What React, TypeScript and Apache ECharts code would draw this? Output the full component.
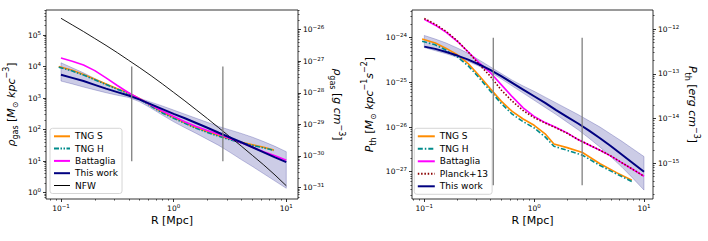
import React, { useEffect, useRef } from "react";
import * as echarts from "echarts";

// ---------- DATA (log10 values) ----------
// Left panel: gas density [Msun kpc^-3]
const rhoLogR = [-1.0, -0.9, -0.8, -0.7, -0.6, -0.5, -0.4, -0.3, -0.2, -0.1, 0, 0.1, 0.2, 0.3, 0.4, 0.5, 0.6, 0.7, 0.8, 0.9, 1.0];
const rhoThisWork = [3.74, 3.64, 3.54, 3.42, 3.30, 3.19, 3.08, 2.95, 2.80, 2.65, 2.50, 2.36, 2.21, 2.06, 1.90, 1.75, 1.60, 1.44, 1.28, 1.12, 0.97];
const rhoBandHi = [4.12, 3.96, 3.80, 3.62, 3.45, 3.28, 3.12, 2.99, 2.87, 2.75, 2.62, 2.49, 2.36, 2.23, 2.10, 1.99, 1.88, 1.76, 1.62, 1.47, 1.30];
const rhoBandLo = [3.54, 3.45, 3.35, 3.26, 3.17, 3.09, 3.02, 2.88, 2.68, 2.46, 2.25, 2.06, 1.88, 1.69, 1.50, 1.28, 1.05, 0.83, 0.60, 0.37, 0.14];
const rhoBattaglia = [4.27, 4.17, 4.05, 3.87, 3.64, 3.40, 3.17, 2.97, 2.78, 2.59, 2.42, 2.25, 2.10, 1.97, 1.85, 1.72, 1.58, 1.44, 1.30, 1.17, 1.03];
const rhoNFW = [5.53, 5.32, 5.11, 4.89, 4.67, 4.44, 4.20, 3.96, 3.71, 3.45, 3.18, 2.91, 2.63, 2.35, 2.06, 1.77, 1.48, 1.18, 0.88, 0.56, 0.22];
const tngLogR = [-1.02, -0.9, -0.8, -0.7, -0.6, -0.5, -0.4, -0.3, -0.2, -0.1, 0, 0.1, 0.2, 0.3, 0.4, 0.5, 0.6, 0.7, 0.8, 0.89];
const rhoTngS = [4.00, 3.88, 3.75, 3.60, 3.45, 3.30, 3.16, 2.98, 2.76, 2.55, 2.38, 2.22, 2.06, 1.93, 1.81, 1.70, 1.60, 1.52, 1.44, 1.35];
const rhoTngH = [3.98, 3.86, 3.73, 3.58, 3.43, 3.28, 3.14, 2.96, 2.74, 2.53, 2.36, 2.20, 2.04, 1.91, 1.79, 1.68, 1.58, 1.50, 1.42, 1.34];
const rhoVLineY = [1.0, 4.0];

// Right panel: thermal pressure [Msun kpc^-1 s^-2]
const pLogR = [-1.0, -0.9, -0.8, -0.7, -0.6, -0.5, -0.4, -0.3, -0.2, -0.1, 0, 0.1, 0.2, 0.3, 0.4, 0.5, 0.6, 0.7, 0.8, 0.9, 1.0];
const pThisWork = [-24.20, -24.25, -24.32, -24.40, -24.49, -24.60, -24.72, -24.86, -25.01, -25.16, -25.31, -25.46, -25.62, -25.77, -25.92, -26.08, -26.25, -26.43, -26.62, -26.81, -27.0];
const pBandHi = [-23.95, -24.03, -24.12, -24.23, -24.35, -24.50, -24.65, -24.80, -24.95, -25.08, -25.20, -25.33, -25.46, -25.59, -25.72, -25.86, -26.00, -26.16, -26.32, -26.49, -26.66];
const pBandLo = [-24.22, -24.29, -24.36, -24.44, -24.53, -24.64, -24.77, -24.92, -25.08, -25.24, -25.40, -25.56, -25.72, -25.89, -26.06, -26.25, -26.45, -26.67, -26.90, -27.15, -27.41];
const pBattaglia = [-23.59, -23.72, -23.88, -24.08, -24.32, -24.56, -24.78, -25.05, -25.32, -25.57, -25.76, -25.90, -26.01, -26.13, -26.28, -26.40, -26.52, -26.65, -26.80, -26.95, -27.10];
const pPlanck = [-23.57, -23.70, -23.86, -24.07, -24.32, -24.60, -24.86, -25.17, -25.42, -25.63, -25.79, -25.91, -26.02, -26.14, -26.28, -26.40, -26.52, -26.65, -26.80, -26.95, -27.10];
const pTngLogR = [-1.02, -0.9, -0.8, -0.7, -0.6, -0.5, -0.4, -0.3, -0.2, -0.1, 0, 0.1, 0.18, 0.3, 0.44, 0.6, 0.75, 0.89];
const pTngS = [-24.03, -24.12, -24.24, -24.38, -24.58, -24.85, -25.14, -25.42, -25.65, -25.82, -25.96, -26.15, -26.38, -26.46, -26.57, -26.82, -27.02, -27.19];
const pTngH = [-24.08, -24.16, -24.28, -24.43, -24.63, -24.90, -25.19, -25.47, -25.71, -25.88, -26.02, -26.22, -26.43, -26.52, -26.63, -26.86, -27.05, -27.22];
const pVLineY = [-27.3, -24.0];

// Vertical marker radii (log10 R [Mpc])
const markerLogR = [-0.372, 0.437];

// Unit conversions (log10 offsets)
const rhoToCgs = -31.169; // Msun/kpc^3 -> g/cm^3
const pToCgs = 11.809; // Msun/kpc/s^2 -> erg/cm^3

// ---------- STYLE / LAYOUT ----------
const FONT = "DejaVu Sans";
const NAVY = "#000080";
const ORANGE = "#ff8c00";
const TEAL = "#008b8b";
const MAGENTA = "#ff00ff";
const DARKRED = "#8b0000";

const L = { left: 46, top: 10, width: 252, height: 189, x: [-1.133, 1.104], y: [-0.2, 5.793] };
const Rg = { left: 412, top: 10, width: 241, height: 189, x: [-1.112, 1.082], y: [-27.61, -23.38] };

const pts = (xs: number[], ys: number[]) => xs.map((x, i) => [x, ys[i]]);

function decades(min: number, max: number) {
  const out: number[] = [];
  for (let n = Math.ceil(min); n <= Math.floor(max); n++) out.push(n);
  return out;
}
function minors(min: number, max: number) {
  const out: number[] = [];
  for (let n = Math.floor(min) - 1; n <= Math.ceil(max); n++) {
    for (let k = 2; k <= 9; k++) {
      const v = n + Math.log10(k);
      if (v >= min && v <= max) out.push(v);
    }
  }
  return out;
}
const tickRich = {
  b: { fontFamily: FONT, fontSize: 7.5, lineHeight: 11, color: "#000" },
  s: { fontFamily: FONT, fontSize: 5.5, lineHeight: 6, verticalAlign: "top", color: "#000" },
};
const fmt = (v: number) => {
  const e = Math.round(v);
  const s = e < 0 ? "\u2212" + -e : String(e);
  return `{b|10}{s|${s}}`;
};

const noLine = { show: false, onZero: false };

function xAxes(gridIndex: number, r: number[]) {
  return [
    {
      type: "value", gridIndex, min: r[0], max: r[1], position: "bottom",
      axisLine: noLine, splitLine: { show: false },
      axisTick: { show: true, length: 3, lineStyle: { color: "#000", width: 0.8 }, customValues: decades(r[0], r[1]) },
      axisLabel: { show: true, margin: 4, customValues: decades(r[0], r[1]), formatter: fmt, rich: tickRich },
    },
    {
      type: "value", gridIndex, min: r[0], max: r[1], position: "bottom",
      axisLine: noLine, splitLine: { show: false },
      axisTick: { show: true, length: 1.6, lineStyle: { color: "#000", width: 0.6 }, customValues: minors(r[0], r[1]) },
      axisLabel: { show: false },
    },
  ];
}
function yAxes(gridIndex: number, r: number[], position: string) {
  return [
    {
      type: "value", gridIndex, min: r[0], max: r[1], position,
      axisLine: noLine, splitLine: { show: false },
      axisTick: { show: true, length: 3, lineStyle: { color: "#000", width: 0.8 }, customValues: decades(r[0], r[1]) },
      axisLabel: { show: true, margin: 5, customValues: decades(r[0], r[1]), formatter: fmt, rich: tickRich },
    },
    {
      type: "value", gridIndex, min: r[0], max: r[1], position,
      axisLine: noLine, splitLine: { show: false },
      axisTick: { show: true, length: 1.6, lineStyle: { color: "#000", width: 0.6 }, customValues: minors(r[0], r[1]) },
      axisLabel: { show: false },
    },
  ];
}

const line = (name: string, data: number[][], xi: number, yi: number, color: string, width: number, type: any, z = 3) => ({
  name, type: "line", data, xAxisIndex: xi, yAxisIndex: yi, symbol: "none", showSymbol: false,
  lineStyle: { color, width, type }, itemStyle: { color }, z, silent: true,
});

// Shaded uncertainty band drawn as a polygon through the axes' scales
const band = (xs: number[], lo: number[], hi: number[], xi: number, yi: number) => ({
  type: "custom", xAxisIndex: xi, yAxisIndex: yi, silent: true, z: 2, clip: true,
  data: [[xs[0], lo[0]]],
  renderItem: (_p: any, api: any) => {
    const up = xs.map((x, i) => api.coord([x, hi[i]]));
    const dn = xs.map((x, i) => api.coord([x, lo[i]])).reverse();
    return {
      type: "polygon",
      shape: { points: [...up, ...dn] },
      style: { fill: "rgba(0,0,128,0.2)", stroke: "rgba(0,0,128,0.28)", lineWidth: 0.8 },
    };
  },
});

const titleRich = (size = 11) => ({
  i: { fontFamily: FONT, fontSize: size, fontStyle: "italic", lineHeight: 17, color: "#000" },
  n: { fontFamily: FONT, fontSize: size, lineHeight: 17, color: "#000" },
  s: { fontFamily: FONT, fontSize: 8, lineHeight: 8, verticalAlign: "bottom", color: "#000" },
  p: { fontFamily: FONT, fontSize: 8, lineHeight: 8, verticalAlign: "top", color: "#000" },
});
const title = (text: string, x: number, y: number, rotation: number) => ({
  type: "text", x, y, rotation, silent: true,
  style: { text, rich: titleRich(), align: "center", verticalAlign: "middle", fill: "#000" },
});

const legendBase = {
  orient: "vertical", backgroundColor: "rgba(255,255,255,0.8)", borderColor: "#cccccc", borderWidth: 0.8,
  borderRadius: 2.5, itemHeight: 10, itemWidth: 16, selectedMode: false,
  itemStyle: { opacity: 0 },
  textStyle: { fontFamily: FONT, fontSize: 9, color: "#000", lineHeight: 10 },
  formatter: (n: string) => n.trim(),
};

export default function App() {
  const ref = useRef<HTMLDivElement>(null);
  useEffect(() => {
    if (!ref.current) return;
    const chart = echarts.init(ref.current, undefined, { renderer: "svg" });
    const option: any = {
      animation: false,
      backgroundColor: "#fff",
      grid: [
        { left: L.left, top: L.top, width: L.width, height: L.height, show: true, borderColor: "#000", borderWidth: 0.8, backgroundColor: "transparent" },
        { left: Rg.left, top: Rg.top, width: Rg.width, height: Rg.height, show: true, borderColor: "#000", borderWidth: 0.8, backgroundColor: "transparent" },
      ],
      xAxis: [...xAxes(0, L.x), ...xAxes(1, Rg.x)],
      yAxis: [
        ...yAxes(0, L.y, "left"),
        ...yAxes(0, [L.y[0] + rhoToCgs, L.y[1] + rhoToCgs], "right"),
        ...yAxes(1, Rg.y, "left"),
        ...yAxes(1, [Rg.y[0] + pToCgs, Rg.y[1] + pToCgs], "right"),
      ],
      legend: [
        {
          ...legendBase, left: 50, top: 128.3, padding: [3, 4, 3, 3], itemGap: 2.3,
          data: ["TNG S", "TNG H", "Battaglia", "This work", { name: "NFW", lineStyle: { width: 1 } }],
        },
        { ...legendBase, left: 414.3, top: 128.3, padding: [3, 4, 3, 2.5], itemWidth: 17, itemGap: 2.5, data: ["TNG S ", "TNG H ", "Battaglia ", "Planck+13", "This work "] },
      ],
      series: [
        // left panel
        band(rhoLogR, rhoBandLo, rhoBandHi, 0, 0),
        line("TNG S", pts(tngLogR, rhoTngS), 0, 0, ORANGE, 1.6, "solid"),
        line("TNG H", pts(tngLogR, rhoTngH), 0, 0, TEAL, 1.6, [5, 1.5, 1.5, 1.5, 1.5, 1.5]),
        line("Battaglia", pts(rhoLogR, rhoBattaglia), 0, 0, MAGENTA, 1.6, "solid"),
        line("This work", pts(rhoLogR, rhoThisWork), 0, 0, NAVY, 2, "solid", 4),
        line("NFW", pts(rhoLogR, rhoNFW), 0, 0, "#000", 0.9, "solid"),
        line("vl0", pts([markerLogR[0], markerLogR[0]], rhoVLineY), 0, 0, "#808080", 1.3, "solid", 5),
        line("vl1", pts([markerLogR[1], markerLogR[1]], rhoVLineY), 0, 0, "#808080", 1.3, "solid", 5),
        // right panel
        band(pLogR, pBandLo, pBandHi, 2, 4),
        line("TNG S ", pts(pTngLogR, pTngS), 2, 4, ORANGE, 1.6, "solid"),
        line("TNG H ", pts(pTngLogR, pTngH), 2, 4, TEAL, 1.6, [5, 2, 1.5, 2]),
        line("Battaglia ", pts(pLogR, pBattaglia), 2, 4, MAGENTA, 1.6, "solid"),
        line("Planck+13", pts(pLogR, pPlanck), 2, 4, DARKRED, 1.6, [1.5, 1.8]),
        line("This work ", pts(pLogR, pThisWork), 2, 4, NAVY, 2, "solid", 4),
        line("vr0", pts([markerLogR[0], markerLogR[0]], pVLineY), 2, 4, "#808080", 1.3, "solid", 5),
        line("vr1", pts([markerLogR[1], markerLogR[1]], pVLineY), 2, 4, "#808080", 1.3, "solid", 5),
      ],
      graphic: [
        title("{i|ρ}{s|gas}{n| [}{i|M}{s|⊙}{n| }{i|kpc}{p|−3}{n|]}", 11, 104.5, Math.PI / 2),
        title("{i|ρ}{s|gas}{n| [}{i|g}{n| }{i|cm}{p|−3}{n|]}", 337, 104.5, -Math.PI / 2),
        title("{i|P}{s|th}{n| [}{i|M}{s|⊙}{n| }{i|kpc}{p|−1}{i|s}{p|−2}{n|]}", 369, 104.5, Math.PI / 2),
        title("{i|P}{s|th}{n| [}{i|erg}{n| }{i|cm}{p|−3}{n|]}", 692, 104.5, -Math.PI / 2),
        { type: "text", x: 172, y: 220, silent: true, style: { text: "R [Mpc]", fontFamily: FONT, fontSize: 11, fill: "#000", align: "center", verticalAlign: "middle" } },
        { type: "text", x: 532.5, y: 220, silent: true, style: { text: "R [Mpc]", fontFamily: FONT, fontSize: 11, fill: "#000", align: "center", verticalAlign: "middle" } },
      ],
    };
    chart.setOption(option);
    return () => chart.dispose();
  }, []);
  return <div ref={ref} style={{ position: "fixed", left: 0, top: 0, width: 708, height: 241 }} />;
}
